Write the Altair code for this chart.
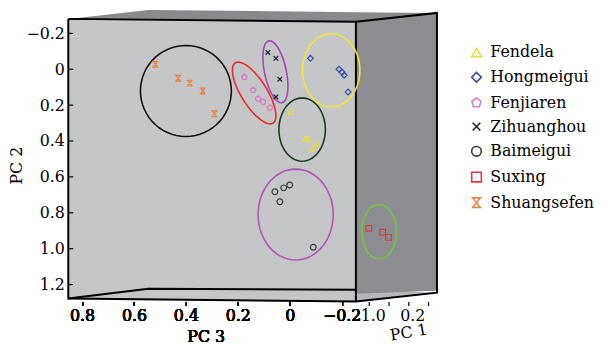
import altair as alt
import pandas as pd

# ---------------- data ----------------
names = ["Fendela", "Hongmeigui", "Fenjiaren", "Zihuanghou", "Baimeigui", "Suxing", "Shuangsefen"]
colors = ["#e6dc3c", "#3a4aa8", "#d67cc6", "#1c1c3c", "#3a3a3a", "#e83434", "#f08040"]
PENTAGON = "M0,-1L0.951,-0.309L0.588,0.809L-0.588,0.809L-0.951,-0.309Z"
XMARK = "M-0.8,-0.8L0.8,0.8M0.8,-0.8L-0.8,0.8"
HOURGLASS = "M-0.8,-1L0.8,-1L-0.8,1L0.8,1Z"
shapes = ["triangle-up", "diamond", PENTAGON, XMARK, "circle", "square", HOURGLASS]

fendela_pc3 = [-0.004, -0.061, -0.069, -0.088, -0.103]
fendela_pc2 = [0.237, 0.386, 0.386, 0.441, 0.413]
hongmeigui_pc3 = [-0.080, -0.190, -0.202, -0.210, -0.225]
hongmeigui_pc2 = [-0.061, 0.000, 0.017, 0.033, 0.127]
fenjiaren_pc3 = [0.175, 0.141, 0.122, 0.103, 0.076]
fenjiaren_pc2 = [0.044, 0.116, 0.165, 0.182, 0.215]
zihuanghou_pc3 = [0.084, 0.053, 0.038, 0.053]
zihuanghou_pc2 = [-0.094, -0.061, 0.055, 0.154]
baimeigui_pc3 = [0.057, 0.023, 0.000, 0.038, -0.091]
baimeigui_pc2 = [0.683, 0.661, 0.645, 0.738, 0.992]
suxing_pc3 = [-0.305, -0.358, -0.381]
suxing_pc2 = [0.887, 0.909, 0.937]
shuangsefen_pc3 = [0.518, 0.430, 0.385, 0.335, 0.290]
shuangsefen_pc2 = [-0.028, 0.050, 0.077, 0.121, 0.248]

series_pc3 = [fendela_pc3, hongmeigui_pc3, fenjiaren_pc3, zihuanghou_pc3,
              baimeigui_pc3, suxing_pc3, shuangsefen_pc3]
series_pc2 = [fendela_pc2, hongmeigui_pc2, fenjiaren_pc2, zihuanghou_pc2,
              baimeigui_pc2, suxing_pc2, shuangsefen_pc2]

# cluster ellipses: centre (PC3, PC2), semi-axes (px), screen angle (deg)
ell_pc3 = [0.400, 0.137, 0.055, -0.160, -0.048, -0.023, -0.345]
ell_pc2 = [0.121, 0.132, 0.014, 0.006, 0.336, 0.810, 0.906]
ell_a = [46, 36, 32, 29, 23.5, 38, 17.5]
ell_b = [46, 13, 11, 37, 32, 46, 27.5]
ell_ang = [0, 58, 78, 0, 0, 0, 0]
ell_col = ["#111111", "#ee2a2a", "#a448b4", "#f0e634", "#1e3a1e", "#b454b8", "#74c244"]

# axis ticks
pc3_ticks = [0.8, 0.6, 0.4, 0.2, 0.0, -0.2]
pc2_ticks = [-0.2, 0.0, 0.2, 0.4, 0.6, 0.8, 1.0, 1.2]
pc1_ticks = [1.0, 0.6, 0.2, -0.2]

# box frame (PC3, PC2 coordinates)
PC3_DOMAIN = [0.8533, -0.5676]
PC2_DOMAIN = [-0.3306, 1.2948]
PC1_DOMAIN = [7.08, -0.38]

face_name = ["bottom"] * 4 + ["side"] * 2 + ["top"] * 4 + ["front"] * 2
face_pc3 = [0.8533, 0.5448, -0.2552, -0.5676,
            -0.2552, -0.5676,
            0.8533, 0.5448, -0.2552, -0.5676,
            0.8533, -0.2552]
face_top = [1.2782, 1.2231, 1.2287, 1.2452,
            -0.2645, -0.3140,
            -0.2810, -0.3306, -0.3185, -0.3140,
            -0.2810, -0.2645]
face_bot = [1.2782, 1.2813, 1.2948, 1.2452,
            1.2507, 1.2342,
            -0.2810, -0.2766, -0.2645, -0.3140,
            1.2782, 1.2893]
face_col = ["#b6b7ba"] * 4 + ["#8d8d91"] * 2 + ["#8a8a8e"] * 4 + ["#c5c6c8"] * 2

edge_seg = ["A"] * 7 + ["B"] * 2 + ["C"] * 3
edge_pc3 = [0.8533, 0.8533, -0.2552, -0.5676, -0.5676, -0.2552, 0.8533,
            -0.2552, -0.2552,
            0.8533, 0.5448, -0.2552]
edge_pc2 = [-0.2810, 1.2782, 1.2948, 1.2452, -0.3140, -0.2645, -0.2810,
            -0.2645, 1.2948,
            1.2782, 1.2231, 1.2287]

# ---------------- tables ----------------
rows = []
for n, xs, ys in zip(names, series_pc3, series_pc2):
    for a, b in zip(xs, ys):
        rows.append({"variety": n, "pc3": a, "pc2": b})
pts = pd.DataFrame(rows)

ell = pd.DataFrame({"id": list(range(len(ell_pc3))), "cx": ell_pc3, "cy": ell_pc2,
                    "a": ell_a, "b": ell_b, "ang": ell_ang, "col": ell_col})
faces = pd.DataFrame({"face": face_name, "pc3": face_pc3, "pc2": face_top,
                      "pc2b": face_bot, "col": face_col})
edges = pd.DataFrame({"seg": edge_seg, "pc3": edge_pc3, "pc2": edge_pc2,
                      "i": list(range(len(edge_seg)))})
yt = pd.DataFrame({"pc2": pc2_ticks, "pc3": [PC3_DOMAIN[0]] * len(pc2_ticks),
                   "pc3b": [PC3_DOMAIN[0] - 0.019] * len(pc2_ticks)})
p1 = pd.DataFrame({"pc1": pc1_ticks})

FONT = "DejaVu Serif"
FS = 16
LBL = "datum.value == 0 ? '0' : format(datum.value, '.1f')"

xscale = alt.Scale(domain=PC3_DOMAIN, nice=False, zero=False)
yscale = alt.Scale(domain=PC2_DOMAIN, nice=False, zero=False, reverse=True)
xaxis = alt.Axis(values=pc3_ticks, labelExpr=LBL, grid=False, domain=False, orient="bottom",
                 tickSize=4, tickColor="black", tickWidth=1.2, labelPadding=2,
                 titleX=139, titleY=35, titleBaseline="middle", titleAlign="center")
yaxis = alt.Axis(values=pc2_ticks, labelExpr=LBL, grid=False, domain=False, ticks=False,
                 labelPadding=4, titleX=-52, titleY=157, titleBaseline="middle",
                 titleAlign="center", titleAngle=270)


def X(f="pc3"):
    return alt.X(f"{f}:Q", scale=xscale, axis=xaxis, title="PC 3")


def Y(f="pc2"):
    return alt.Y(f"{f}:Q", scale=yscale, axis=yaxis, title="PC 2", stack=None)


face_layer = alt.Chart(faces).mark_area(interpolate="linear", opacity=1).encode(
    x=X(), y=Y(), y2="pc2b:Q", detail="face:N", fill=alt.Fill("col:N", scale=None)
)
face_layers = [face_layer.transform_filter(f"datum.face == '{f}'")
               for f in ["bottom", "side", "top", "front"]]

edge_layer = alt.Chart(edges).mark_line(color="black", strokeWidth=2, strokeJoin="miter").encode(
    x=X(), y=Y(), detail="seg:N", order="i:Q"
)

ell_layer = alt.Chart(ell).transform_calculate(
    t="sequence(0, 366, 6)"
).transform_flatten(["t"]).transform_calculate(
    r="datum.t * PI / 180",
    th="datum.ang * PI / 180",
    pc3="datum.cx - (datum.a * cos(datum.r) * cos(datum.th) - datum.b * sin(datum.r) * sin(datum.th)) / 262.5",
    pc2="datum.cy + (datum.a * cos(datum.r) * sin(datum.th) + datum.b * sin(datum.r) * cos(datum.th)) / 181.5",
).mark_line(strokeWidth=1.6).encode(
    x=X(), y=Y(), detail="id:N", order="t:Q", stroke=alt.Stroke("col:N", scale=None)
)

ytick_layer = alt.Chart(yt).mark_rule(color="black", strokeWidth=1.2).encode(
    x=X(), x2="pc3b:Q", y=Y()
)

legend = alt.Legend(title=None, orient="none", legendX=405, legendY=35, labelFont=FONT,
                    labelFontSize=FS, labelColor="black", symbolSize=95, symbolStrokeWidth=1.6,
                    rowPadding=8.0, labelOffset=6, padding=0)
pt_layer = alt.Chart(pts).mark_point(filled=False, size=34, strokeWidth=1.2, opacity=1).encode(
    x=X(), y=Y(),
    color=alt.Color("variety:N", scale=alt.Scale(domain=names, range=colors), legend=legend),
    shape=alt.Shape("variety:N", scale=alt.Scale(domain=names, range=shapes), legend=legend),
)

pc1_layer = alt.Chart(p1).mark_rule(opacity=0).encode(
    x=alt.X("pc1:Q", scale=alt.Scale(domain=PC1_DOMAIN, nice=False, zero=False),
            title="PC 1",
            axis=alt.Axis(values=pc1_ticks, orient="bottom", grid=False, domain=False,
                          tickSize=4, tickColor="black", tickWidth=1.2, labelPadding=2,
                          labelOffset=4,
                          labelExpr="(datum.value == 1 || abs(datum.value - 0.2) < 0.001) ? format(datum.value, '.1f') : ''",
                          titleX=344, titleY=31, titleBaseline="middle", titleAlign="center",
                          titleAngle=350))
)

chart = alt.layer(
    *face_layers, edge_layer, ell_layer, ytick_layer, pt_layer, pc1_layer
).resolve_scale(x="independent").properties(
    width=373, height=295,
    autosize=alt.AutoSizeParams(type="none"),
    padding={"left": 61, "top": 0, "right": 168, "bottom": 46},
    background="white",
).configure_view(stroke=None).configure_axis(
    labelFont=FONT, labelFontSize=FS, labelColor="black",
    titleFont=FONT, titleFontSize=FS, titleFontWeight="normal", titleColor="black",
)

chart.save("out.html", embed_options={"renderer": "svg", "actions": False})
